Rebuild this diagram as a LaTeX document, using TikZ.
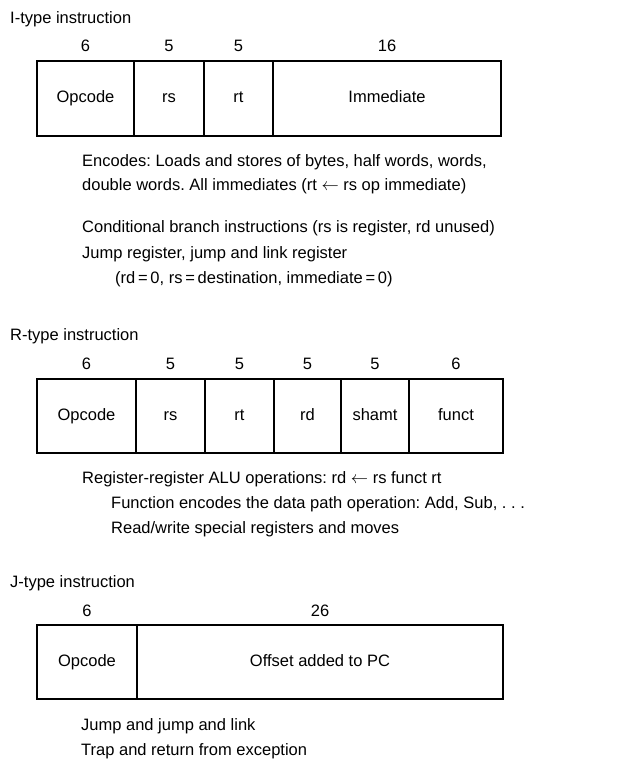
\documentclass[tikz,border=0pt]{standalone}
\usepackage{fontspec}
\setmainfont{Liberation Sans}
\usetikzlibrary{positioning}
\frenchspacing

\begin{document}
\begin{tikzpicture}[x=1pt,y=-1pt,font=\fontsize{16.5}{24}\selectfont,
  field/.style={draw,line width=1.2pt,anchor=north west,inner sep=0pt,outer sep=0pt,
    text height=12pt,text depth=3.5pt},
  bits/.style={inner sep=0pt},
  lbl/.style={anchor=base west,inner sep=0pt},
]
\useasboundingbox (0,0) rectangle (624,759);

% I-type
\node[lbl] (ititle) at (10,24) {I-type instruction};
\node[field,minimum width=97pt,minimum height=75pt] (iop) at (37,61) {Opcode};
\node[field,minimum width=70pt,minimum height=75pt] (irs) at (iop.north east) {rs};
\node[field,minimum width=69pt,minimum height=75pt] (irt) at (irs.north east) {rt};
\node[field,minimum width=228pt,minimum height=75pt] (iimm) at (irt.north east) {Immediate};
\node[bits,above=9pt of iop] (ibop) {6};
\node[bits,above=9pt of irs] (ibrs) {5};
\node[bits,above=9pt of irt] (ibrt) {5};
\node[bits,above=9pt of iimm] (ibimm) {16};

\node[lbl] (inote1) at (82,167) {Encodes: Loads and stores of bytes, half words, words,};
\node[lbl] (inote2) at (82,191) {double words. All immediates (rt $\leftarrow$ rs op immediate)};
\node[lbl] (inote3) at (82,233) {Conditional branch instructions (rs is register, rd unused)};
\node[lbl] (inote4) at (82,258) {Jump register, jump and link register};
\node[lbl] (inote5) at (115,283) {(rd\,=\,0, rs\,=\,destination, immediate\,=\,0)};

% R-type
\node[lbl] (rtitle) at (10,340) {R-type instruction};
\node[field,minimum width=99pt,minimum height=74pt] (rop) at (37,379) {Opcode};
\node[field,minimum width=69pt,minimum height=74pt] (rrs) at (rop.north east) {rs};
\node[field,minimum width=69pt,minimum height=74pt] (rrt) at (rrs.north east) {rt};
\node[field,minimum width=67pt,minimum height=74pt] (rrd) at (rrt.north east) {rd};
\node[field,minimum width=68pt,minimum height=74pt] (rsh) at (rrd.north east) {shamt};
\node[field,minimum width=94pt,minimum height=74pt] (rfn) at (rsh.north east) {funct};
\node[bits,above=9pt of rop] (rbop) {6};
\node[bits,above=9pt of rrs] (rbrs) {5};
\node[bits,above=9pt of rrt] (rbrt) {5};
\node[bits,above=9pt of rrd] (rbrd) {5};
\node[bits,above=9pt of rsh] (rbsh) {5};
\node[bits,above=9pt of rfn] (rbfn) {6};

\node[lbl] (rnote1) at (82,483) {Register-register ALU operations: rd $\leftarrow$ rs funct rt};
\node[lbl] (rnote2) at (111,508) {Function encodes the data path operation: Add, Sub, . . .};
\node[lbl] (rnote3) at (111,533) {Read/write special registers and moves};

% J-type
\node[lbl] (jtitle) at (10,587) {J-type instruction};
\node[field,minimum width=100pt,minimum height=74pt] (jop) at (37,625) {Opcode};
\node[field,minimum width=366pt,minimum height=74pt] (joff) at (jop.north east) {Offset added to PC};
\node[bits,above=8pt of jop] (jbop) {6};
\node[bits,above=8pt of joff] (jboff) {26};

\node[lbl] (jnote1) at (81,730) {Jump and jump and link};
\node[lbl] (jnote2) at (81,755) {Trap and return from exception};

\end{tikzpicture}
\end{document}
